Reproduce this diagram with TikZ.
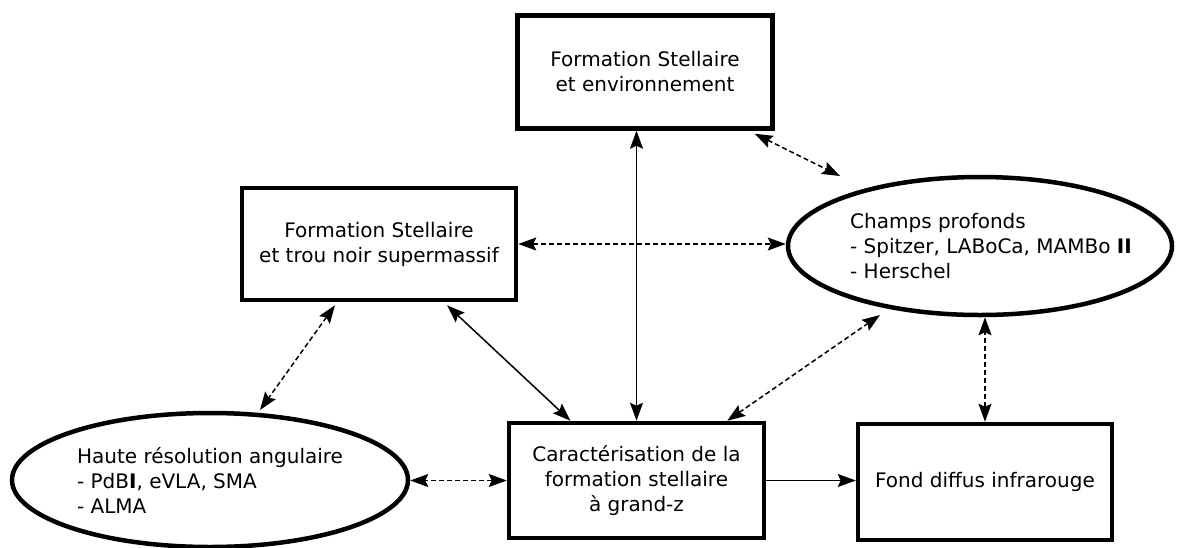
\documentclass[tikz,border=0pt]{standalone}
\usepackage{fontspec}
\setmainfont{DejaVu Sans}
\usetikzlibrary{shapes.geometric,arrows.meta,calc}
\begin{document}
\begin{tikzpicture}[x=1pt,y=-1pt,
    boite/.style={draw,line width=4.5pt,inner sep=0pt,align=center,font=\fontsize{20}{25}\selectfont},
    bulle/.style={draw,ellipse,line width=4.5pt,inner sep=0pt},
    texte/.style={align=left,font=\fontsize{20}{25}\selectfont},
    pointe/.tip={Stealth[length=18pt,width=13pt,inset=3pt]},
    fleche/.style={line width=1.5pt,-pointe},
    lien/.style={line width=1.5pt,pointe-pointe},
    pointille/.style={lien,dash pattern=on 5pt off 3pt}]
    \useasboundingbox (0,0) rectangle (1180,547);
    \node[boite,minimum width=255pt,minimum height=113pt] (tope) at (645,72) {Formation Stellaire\\et environnement};
    \node[boite,minimum width=274pt,minimum height=112pt] (gauche) at (379,244) {Formation Stellaire\\et trou noir supermassif};
    \node[boite,minimum width=255pt,minimum height=115pt] (centre) at (636.5,480.5) {Caractérisation de la\\formation stellaire\\à grand-z};
    \node[boite,minimum width=254pt,minimum height=116pt] (fond) at (985,482) {Fond diffus infrarouge};
    \node[bulle,minimum width=384pt,minimum height=138pt,label={[texte,xshift=11pt]center:Champs profonds\\- Spitzer, LABoCa, MAMBo \textbf{II}\\- Herschel}] (champs) at (980,246) {};
    \node[bulle,minimum width=396pt,minimum height=134pt,label={[texte]center:Haute résolution angulaire\\- PdB\textbf{I}, eVLA, SMA\\- ALMA}] (haute) at (210,480) {};
    \draw[lien] (centre.north) -- (centre.north |- tope.south);
    \draw[lien] ($(gauche.south)+(68,3)$) -- ($(centre.north)+(-66,0)$);
    \draw[pointille] (gauche.east) -- (gauche.east -| champs.west);
    \draw[pointille] ($(tope.south east)+(-20,3)$) -- ($(champs.center)+(-140,-70)$);
    \draw[pointille] ($(gauche.south)+(-44,3)$) -- ($(haute.center)+(50,-70)$);
    \draw[pointille] ($(centre.north east)+(-39,0)$) -- ($(champs.center)+(-100,69)$);
    \draw[pointille] (fond.north) -- (fond.north |- champs.south);
    \draw[pointille] (centre.west) -- (centre.west -| haute.east);
    \draw[fleche] (centre.east) -- (centre.east -| fond.west);
\end{tikzpicture}
\end{document}
